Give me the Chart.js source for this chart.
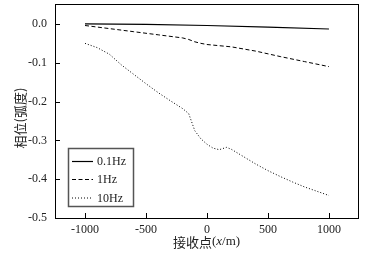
<!DOCTYPE html>
<html><head><meta charset="utf-8">
<script src="https://cdn.jsdelivr.net/npm/chart.js@4/dist/chart.umd.min.js"></script>
<style>html,body{margin:0;padding:0;background:#fff}#w{width:378px;height:256px}</style>
</head><body><div id="w"><canvas id="c" width="378" height="256"></canvas></div>
<script>
const seriesLabels = ['0.1Hz', '1Hz', '10Hz'];
const x01 = [-1000, -500, 0, 500, 1000];
const y01 = [0.000, -0.001, -0.004, -0.008, -0.013];
const x1 = [-1000, -800, -600, -400, -200, -150, -100, -50, 0, 100, 200, 400, 600, 800, 1000];
const y1 = [-0.004, -0.012, -0.020, -0.028, -0.036, -0.040, -0.046, -0.050, -0.053, -0.056, -0.059, -0.070, -0.084, -0.097, -0.110];
const x10 = [-1000, -900, -800, -700, -600, -500, -400, -300, -200, -150, -100, -50, 0, 50, 100, 160, 200, 300, 400, 500, 600, 700, 800, 900, 1000];
const y10 = [-0.050, -0.061, -0.078, -0.106, -0.130, -0.154, -0.177, -0.198, -0.218, -0.231, -0.275, -0.296, -0.310, -0.320, -0.324, -0.318, -0.323, -0.342, -0.361, -0.378, -0.393, -0.407, -0.420, -0.431, -0.442];
const xTicks = [-1000, -500, 0, 500, 1000];
const yTicks = [0, -0.1, -0.2, -0.3, -0.4, -0.5];

const serif = '"Liberation Serif", "Times New Roman", serif';
const cjk = '"Noto Sans CJK SC", sans-serif';
const pts = (xs, ys) => xs.map((x, i) => ({x: x, y: ys[i]}));

const frame = {
  id: 'frame',
  afterDraw(chart) {
    const ctx = chart.ctx, a = chart.chartArea;
    const xs = chart.scales.x, ys = chart.scales.y;
    ctx.save();
    ctx.strokeStyle = '#000';
    ctx.lineWidth = 1;
    ctx.strokeRect(Math.round(a.left) + 0.5, Math.round(a.top) + 0.5, Math.round(a.right - a.left), Math.round(a.bottom - a.top));
    ctx.beginPath();
    xTicks.forEach(v => {
      const px = Math.round(xs.getPixelForValue(v)) + 0.5;
      ctx.moveTo(px, a.bottom); ctx.lineTo(px, a.bottom - 5);
    });
    yTicks.forEach(v => {
      const py = Math.round(ys.getPixelForValue(v)) + 0.5;
      ctx.moveTo(a.left, py); ctx.lineTo(a.left + 5, py);
    });
    ctx.stroke();

    // legend
    ctx.strokeStyle = '#555';
    ctx.lineWidth = 1.5;
    ctx.strokeRect(68.5, 148.5, 65, 58);
    const rows = [161.5, 179.5, 198];
    ctx.font = '12px ' + serif;
    ctx.textBaseline = 'middle';
    chart.data.datasets.forEach((ds, i) => {
      ctx.beginPath();
      ctx.strokeStyle = ds.borderColor;
      ctx.lineWidth = ds.borderWidth;
      ctx.setLineDash(ds.borderDash || []);
      ctx.moveTo(72, rows[i]); ctx.lineTo(93, rows[i]);
      ctx.stroke();
      ctx.setLineDash([]);
      ctx.fillStyle = '#222';
      ctx.fillText(ds.label, 97, rows[i] + 0.5);
    });

    // x title
    const parts = [['接收点', '13px ' + cjk], ['(', '13px ' + serif], ['x', 'italic 13px ' + serif], ['/m)', '13px ' + serif]];
    let w = 0;
    parts.forEach(p => { ctx.font = p[1]; w += ctx.measureText(p[0]).width; });
    let cx = (a.left + a.right) / 2 - w / 2;
    ctx.textBaseline = 'middle';
    ctx.fillStyle = '#222';
    parts.forEach(p => { ctx.font = p[1]; ctx.fillText(p[0], cx, 242); cx += ctx.measureText(p[0]).width; });

    // y title
    ctx.save();
    ctx.translate(20, 118);
    ctx.rotate(-Math.PI / 2);
    ctx.textAlign = 'center';
    ctx.font = '13px ' + cjk;
    ctx.fillText('相位(弧度)', 0, 0);
    ctx.restore();
    ctx.restore();
  }
};

new Chart(document.getElementById('c'), {
  type: 'line',
  data: {
    datasets: [
      {label: seriesLabels[0], data: pts(x01, y01), borderColor: '#000', borderWidth: 1.2, borderDash: [], pointRadius: 0, tension: 0},
      {label: seriesLabels[1], data: pts(x1, y1), borderColor: '#000', borderWidth: 1, borderDash: [4, 2.5], pointRadius: 0, tension: 0},
      {label: seriesLabels[2], data: pts(x10, y10), borderColor: '#000', borderWidth: 1, borderDash: [1, 2], pointRadius: 0, tension: 0}
    ]
  },
  options: {
    responsive: false, animation: false, devicePixelRatio: 1,
    layout: {padding: {left: 0, top: 4, right: 20, bottom: 0}},
    plugins: {legend: {display: false}, tooltip: {enabled: false}},
    scales: {
      x: {
        type: 'linear', min: -1246, max: 1238,
        grid: {display: false, drawTicks: false}, border: {display: false},
        afterBuildTicks: s => { s.ticks = xTicks.map(v => ({value: v})); },
        afterFit: s => { s.height = 38; s.paddingLeft = 0; s.paddingRight = 0; },
        ticks: {padding: 5, color: '#222', font: {family: serif, size: 12}, maxRotation: 0, callback: v => String(v)}
      },
      y: {
        type: 'linear', min: -0.5, max: 0.0514,
        grid: {display: false, drawTicks: false}, border: {display: false},
        afterBuildTicks: s => { s.ticks = yTicks.map(v => ({value: v})); },
        afterFit: s => { s.width = 55; s.paddingTop = 0; s.paddingBottom = 0; },
        ticks: {padding: 8, color: '#222', font: {family: serif, size: 12}, callback: v => (Math.abs(v) < 1e-9 ? '0.0' : Number(v).toFixed(1))}
      }
    }
  },
  plugins: [frame]
});
</script>
</body></html>
